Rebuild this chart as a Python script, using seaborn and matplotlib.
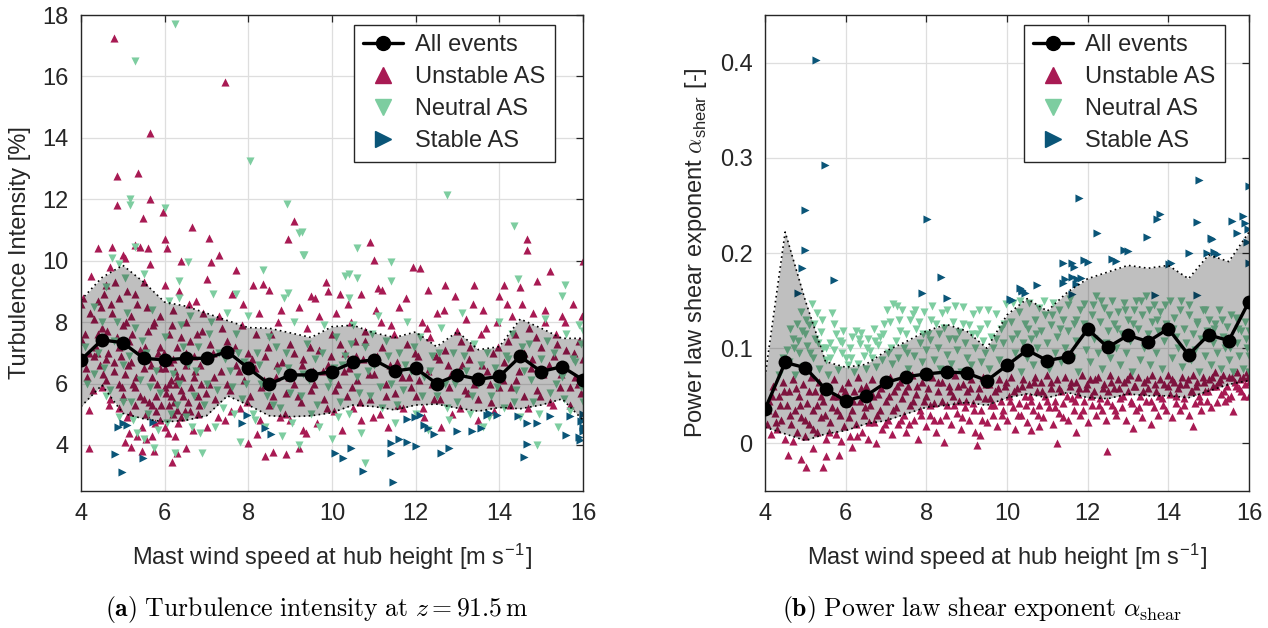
import numpy as np
import pandas as pd
import seaborn as sns
import matplotlib
matplotlib.use("Agg")
import matplotlib.pyplot as plt
from matplotlib.lines import Line2D

# ---------------------------------------------------------------- data
wind_bins = [4.0, 4.5, 5.0, 5.5, 6.0, 6.5, 7.0, 7.5, 8.0, 8.5, 9.0, 9.5, 10.0,
             10.5, 11.0, 11.5, 12.0, 12.5, 13.0, 13.5, 14.0, 14.5, 15.0, 15.5, 16.0]

# Turbulence intensity [%]: bin means of all events and spread band
ti_mean = [6.77, 7.42, 7.33, 6.82, 6.77, 6.82, 6.82, 7.04, 6.50, 5.98, 6.28, 6.28, 6.39,
           6.69, 6.77, 6.41, 6.50, 6.00, 6.28, 6.14, 6.23, 6.88, 6.39, 6.55, 6.12]
ti_upper = [8.72, 9.45, 9.85, 9.30, 8.65, 8.52, 8.29, 8.05, 7.82, 7.80, 7.65, 7.50, 7.85,
            7.90, 7.65, 7.50, 7.68, 7.20, 7.69, 7.10, 7.20, 8.10, 7.80, 7.47, 7.47]
ti_lower = [5.25, 5.95, 5.03, 4.85, 4.75, 4.80, 4.95, 5.60, 5.30, 4.95, 4.92, 4.95, 5.05,
            5.30, 5.25, 5.14, 5.30, 5.33, 5.20, 5.10, 5.22, 5.18, 5.30, 5.50, 4.81]

# Shear exponent [-]: bin means of all events and spread band
alpha_mean = [0.036, 0.085, 0.0795, 0.057, 0.045, 0.050, 0.064, 0.070, 0.073, 0.075, 0.074,
              0.066, 0.082, 0.098, 0.087, 0.091, 0.120, 0.101, 0.1135, 0.107, 0.1205,
              0.093, 0.114, 0.108, 0.149]
alpha_upper = [0.070, 0.222, 0.150, 0.086, 0.080, 0.083, 0.097, 0.107, 0.118, 0.125, 0.118,
               0.100, 0.135, 0.152, 0.139, 0.159, 0.173, 0.180, 0.187, 0.184, 0.187,
               0.173, 0.198, 0.191, 0.222]
alpha_lower = [0.017, 0.010, 0.003, 0.010, 0.0135, 0.0205, 0.024, 0.031, 0.038, 0.040, 0.043,
               0.040, 0.048, 0.052, 0.048, 0.0535, 0.048, 0.047, 0.052, 0.050, 0.050,
               0.048, 0.055, 0.062, 0.066]

# Turbulence intensity, unstable atmospheric stability
ti_unstable_ws = [
    4.05, 4.1, 4.15, 4.2, 4.2, 4.25, 4.3, 4.3, 4.35, 4.4, 4.4, 4.45, 4.5, 4.5, 4.55, 4.6, 4.6,
    4.65, 4.7, 4.7, 4.75, 4.75, 4.8, 4.8, 4.85, 4.85, 4.87, 4.9, 4.9, 4.95, 5.0, 5.0, 5.0,
    5.05, 5.05, 5.1, 5.1, 5.15, 5.2, 5.2, 5.25, 5.3, 5.3, 5.35, 5.37, 5.4, 5.4, 5.45, 5.45,
    5.48, 5.5, 5.5, 5.55, 5.6, 5.6, 5.65, 5.65, 5.65, 5.7, 5.7, 5.75, 5.75, 5.8, 5.85, 5.9,
    5.9, 5.95, 6.0, 6.0, 6.0, 6.05, 6.05, 6.1, 6.1, 6.15, 6.17, 6.2, 6.2, 6.25, 6.3, 6.3,
    6.3, 6.35, 6.4, 6.4, 6.45, 6.5, 6.5, 6.55, 6.6, 6.65, 6.7, 6.75, 6.8, 6.85, 6.9, 7.0,
    7.0, 7.05, 7.07, 7.1, 7.15, 7.2, 7.3, 7.3, 7.35, 7.44, 7.45, 7.5, 7.55, 7.6, 7.7, 7.7,
    7.8, 7.85, 7.9, 8.0, 8.0, 8.05, 8.1, 8.15, 8.2, 8.25, 8.3, 8.35, 8.4, 8.4, 8.5, 8.5,
    8.55, 8.6, 8.65, 8.7, 8.75, 8.8, 8.9, 8.9, 8.95, 9.0, 9.0, 9.08, 9.1, 9.2, 9.2, 9.25,
    9.3, 9.3, 9.4, 9.5, 9.5, 9.55, 9.6, 9.65, 9.7, 9.8, 9.86, 9.9, 9.9, 10.0, 10.05, 10.1,
    10.15, 10.2, 10.25, 10.3, 10.35, 10.4, 10.45, 10.5, 10.55, 10.6, 10.7, 10.7, 10.75,
    10.8, 10.9, 10.9, 11.0, 11.0, 11.05, 11.1, 11.15, 11.2, 11.2, 11.3, 11.35, 11.4, 11.5,
    11.55, 11.6, 11.7, 11.8, 11.85, 11.94, 12.0, 12.05, 12.1, 12.15, 12.2, 12.3, 12.3,
    12.35, 12.45, 12.5, 12.55, 12.6, 12.7, 12.7, 12.8, 12.85, 12.95, 13.0, 13.05, 13.1,
    13.2, 13.25, 13.3, 13.4, 13.4, 13.5, 13.55, 13.6, 13.7, 13.8, 13.85, 13.95, 14.0, 14.0,
    14.1, 14.1, 14.2, 14.25, 14.3, 14.4, 14.45, 14.5, 14.55, 14.6, 14.65, 14.65, 14.7,
    14.75, 14.8, 14.9, 14.9, 15.0, 15.05, 15.1, 15.2, 15.2, 15.3, 15.35, 15.45, 15.5, 15.55,
    15.6, 15.7, 15.75, 15.8, 15.9, 15.95, 16.0, 16.0,
    5.2, 5.3, 5.5, 5.6, 5.8, 5.9, 6.0, 6.0, 6.1, 6.15, 6.2, 6.25, 6.3, 6.4, 6.45, 6.5, 6.6,
    6.7, 6.8, 4.9, 4.6, 4.4, 4.2, 4.0, 5.7, 5.55, 5.35, 5.15, 5.05]
ti_unstable = [
    8.8, 7.6, 6.2, 5.15, 3.9, 9.5, 8.1, 6.9, 7.2, 10.4, 8.7, 6.6, 5.9, 7.8, 8.9, 6.1, 9.2,
    7.0, 9.8, 5.5, 10.45, 8.3, 6.4, 17.25, 11.8, 7.5, 12.76, 5.2, 8.8, 6.9, 10.2, 7.9, 5.6,
    10.1, 6.3, 9.0, 4.9, 7.4, 3.93, 8.2, 6.0, 10.5, 5.3, 8.6, 12.86, 10.45, 7.1, 3.8, 4.6,
    11.38, 6.5, 9.3, 5.0, 10.4, 7.7, 14.16, 12.0, 9.9, 6.2, 4.3, 3.8, 8.0, 5.6, 7.0, 6.5,
    4.8, 11.6, 10.7, 9.2, 5.9, 10.4, 6.8, 5.3, 7.6, 6.1, 3.46, 8.4, 5.0, 6.4, 3.73, 5.14,
    7.2, 9.0, 10.0, 5.8, 6.9, 3.9, 8.0, 5.4, 7.4, 11.1, 6.2, 8.7, 5.0, 6.6, 7.7, 4.6,
    9.4, 6.0, 10.73, 9.95, 7.0, 5.5, 10.2, 8.2, 6.4, 15.83, 4.82, 7.4, 5.8, 8.9, 9.7, 6.6,
    5.2, 7.9, 6.1, 4.07, 7.0, 5.6, 9.2, 6.5, 4.35, 8.3, 5.9, 9.25, 3.65, 6.9, 9.05, 5.3,
    7.6, 3.76, 6.2, 8.0, 4.9, 6.7, 3.7, 5.7, 10.7, 4.82, 7.3, 11.3, 6.0, 3.9, 8.5, 5.4,
    4.5, 6.8, 7.8, 8.85, 5.8, 6.4, 8.8, 4.7, 7.1, 5.5, 9.29, 9.0, 6.6, 7.6, 5.1, 8.3,
    6.0, 8.9, 4.5, 7.0, 5.6, 6.5, 8.0, 5.2, 7.4, 6.1, 8.9, 4.8, 6.8,
    7.7, 10.62, 5.5, 10.03, 6.3, 8.4, 9.1, 5.0, 9.05, 7.2, 6.0, 4.6, 7.9, 5.7,
    6.7, 8.5, 5.2, 7.3, 6.2, 9.8, 5.6, 6.9, 9.75, 8.0, 4.9, 9.05, 6.4,
    7.5, 5.5, 8.3, 6.8, 4.6, 9.2, 7.1, 5.9, 6.3, 8.85, 7.7, 5.2, 6.6,
    8.1, 5.7, 7.2, 9.2, 6.0, 4.8, 7.6, 8.4, 6.4, 5.4, 7.0, 8.0, 8.85, 5.9,
    9.2, 6.7, 7.4, 5.3, 8.2, 6.1, 7.0, 9.15, 8.6, 5.6, 10.7, 10.35, 7.8,
    6.5, 8.3, 9.35, 5.8, 7.2, 6.3, 8.0, 9.65, 5.4, 6.9, 7.6, 5.9, 8.2, 6.6,
    7.1, 5.3, 8.6, 6.2, 7.4, 5.7, 10.0, 6.8,
    6.7, 5.9, 5.5, 6.8, 5.1, 7.2, 6.5, 4.6, 6.0, 5.6, 6.8, 4.3, 6.2, 4.9, 5.6, 6.6, 5.1,
    6.9, 5.6, 6.0, 6.8, 7.6, 7.0, 8.6, 5.3, 4.2, 4.3, 4.4, 4.1]
# further unstable events inside the dense cloud, as (wind speed, TI) pairs
ti_unstable_cloud = [
    (4.02, 7.4), (4.12, 6.5), (4.22, 8.3), (4.28, 5.8), (4.38, 7.0), (4.48, 8.5), (4.52, 6.3),
    (4.62, 7.7), (4.68, 5.3), (4.72, 8.6), (4.78, 6.7), (4.82, 9.3), (4.92, 7.2), (4.98, 5.9),
    (5.08, 8.0), (5.12, 6.6), (5.18, 5.0), (5.22, 7.6), (5.28, 8.9), (5.32, 6.2), (5.42, 5.6),
    (5.52, 7.2), (5.58, 8.5), (5.62, 5.4), (5.68, 6.6), (5.72, 7.9), (5.78, 4.7), (5.82, 6.0),
    (5.88, 8.2), (5.92, 5.3), (5.98, 7.0), (6.02, 5.7), (6.08, 4.4), (6.12, 6.7), (6.18, 7.9),
    (6.22, 5.4), (6.28, 6.0), (6.32, 4.7), (6.38, 7.5), (6.42, 6.2), (6.48, 5.1), (6.52, 7.0),
    (6.58, 8.6), (6.62, 5.9), (6.68, 4.5), (6.72, 6.4), (6.78, 7.6), (6.82, 5.3), (6.88, 6.0),
    (6.92, 8.3), (6.98, 5.7), (7.08, 7.3), (7.18, 6.2), (7.28, 4.9), (7.38, 7.8), (7.48, 6.0),
    (7.58, 5.1), (7.68, 7.2), (7.78, 6.4), (7.88, 8.6), (7.98, 5.4), (8.08, 6.8), (8.18, 7.6),
    (8.28, 4.8), (8.38, 6.1), (8.48, 7.2), (8.58, 5.6), (8.68, 6.6), (8.78, 8.4), (8.88, 5.0),
    (8.98, 6.2), (9.08, 7.0), (9.18, 5.6), (9.28, 6.6), (9.38, 4.4), (9.48, 7.2), (9.58, 6.0),
    (9.68, 8.2), (9.78, 6.4), (9.88, 5.2), (9.98, 6.9), (10.08, 5.8), (10.18, 7.3),
    (10.28, 6.4), (10.38, 8.6), (10.48, 5.9), (10.58, 6.9), (10.68, 5.4), (10.78, 7.4),
    (10.88, 6.3), (10.98, 4.9), (11.08, 6.9), (11.18, 8.0), (11.28, 5.6), (11.38, 6.6),
    (11.48, 7.6), (11.58, 5.3), (11.68, 6.2), (11.78, 8.8), (11.88, 5.9), (11.98, 7.0),
    (12.08, 6.1), (12.18, 5.2), (12.28, 7.8), (12.38, 6.0), (12.48, 6.9), (12.58, 5.5),
    (12.68, 8.4), (12.78, 6.6), (12.88, 5.0), (12.98, 6.3), (13.08, 7.4), (13.18, 5.8),
    (13.28, 6.8), (13.38, 8.6), (13.48, 5.5), (13.58, 6.6), (13.68, 7.8), (13.78, 6.0),
    (13.88, 5.1), (13.98, 7.2), (14.08, 6.1), (14.18, 8.6), (14.28, 5.9), (14.38, 7.6),
    (14.48, 6.4), (14.58, 7.0), (14.68, 5.2), (14.78, 6.8), (14.88, 7.5), (14.98, 5.6),
    (15.08, 8.4), (15.18, 6.6), (15.28, 5.3), (15.38, 7.3), (15.48, 6.3), (15.58, 8.0),
    (15.68, 5.9), (15.78, 7.0), (15.88, 6.0), (15.98, 8.2)]

# Turbulence intensity, neutral atmospheric stability
ti_neutral_ws = [
    4.3, 4.6, 4.75, 4.9, 5.05, 5.16, 5.16, 5.29, 5.3, 5.5, 6.0, 6.25, 6.35, 6.35, 6.55,
    7.15, 7.7, 8.04, 8.35, 8.85, 8.93, 8.95, 9.2, 9.3, 9.28, 9.33, 10.3, 10.4, 10.4, 10.6,
    10.6, 11.4, 11.4, 12.76, 14.34, 14.45, 15.5, 15.56,
    4.1, 4.3, 4.5, 4.6, 4.8, 4.9, 5.0, 5.1, 5.2, 5.3, 5.35, 5.4, 5.5, 5.55, 5.6, 5.7, 5.75,
    5.8, 5.9, 6.0, 6.05, 6.1, 6.2, 6.25, 6.3, 6.4, 6.5, 6.55, 6.6, 6.7, 6.8, 6.85, 6.9,
    7.0, 7.1, 7.2, 7.3, 7.4, 7.5, 7.55, 7.6, 7.7, 7.8, 7.85, 7.9, 8.0, 8.1, 8.2, 8.3, 8.4,
    8.5, 8.6, 8.7, 8.8, 8.9, 9.0, 9.1, 9.2, 9.3, 9.4, 9.5, 9.6, 9.7, 9.8, 9.9, 10.0, 10.05,
    10.1, 10.2, 10.3, 10.4, 10.5, 10.6, 10.7, 10.8, 10.8, 10.9, 11.0, 11.1, 11.2, 11.3,
    11.4, 11.5, 11.6, 11.7, 11.8, 11.9, 12.0, 12.1, 12.2, 12.3, 12.4, 12.5, 12.6, 12.7,
    12.8, 12.9, 13.0, 13.1, 13.2, 13.3, 13.4, 13.5, 13.6, 13.7, 13.8, 13.9, 14.0, 14.1,
    14.2, 14.3, 14.4, 14.5, 14.6, 14.7, 14.8, 14.9, 15.0, 15.1, 15.2, 15.3, 15.4, 15.5,
    15.6, 15.7, 15.8, 15.9, 16.0, 16.0, 15.95]
ti_neutral = [
    8.5, 9.15, 10.1, 9.9, 9.45, 12.0, 11.8, 16.5, 10.45, 9.55, 11.7, 17.7, 9.35, 8.8, 9.95,
    8.9, 8.9, 13.25, 9.7, 8.8, 11.85, 8.95, 10.9, 10.2, 10.95, 10.2, 9.5, 9.55, 8.8, 10.4,
    9.45, 9.95, 9.35, 12.14, 11.13, 9.4, 8.85, 9.2,
    7.2, 6.3, 8.0, 5.6, 7.4, 4.9, 6.6, 8.3, 5.4, 7.8, 4.4, 6.1, 4.2, 7.0, 5.0, 8.4, 3.9,
    6.4, 5.7, 7.5, 4.7, 8.7, 6.3, 3.75, 5.3, 7.9, 4.9, 6.6, 8.2, 5.6, 7.2, 4.4, 3.75,
    6.0, 8.0, 4.6, 7.0, 5.2, 8.3, 6.4, 5.9, 7.6, 4.1, 5.5, 6.7, 8.2, 5.0, 7.0, 6.0, 4.6,
    7.5, 5.3, 6.4, 4.3, 7.0, 5.7, 8.0, 4.0, 6.3, 7.3, 5.0, 6.8, 4.6, 7.9, 5.9, 4.2, 6.5,
    7.5, 5.4, 6.9, 5.0, 7.9, 6.2, 4.4, 3.42, 7.2, 5.6, 6.6, 8.2, 5.2, 7.4,
    6.0, 4.7, 7.0, 5.8, 8.0, 6.4, 5.0, 7.5, 6.2, 4.5, 6.9, 5.6, 7.8, 6.0,
    4.8, 7.0, 5.4, 8.3, 6.4, 5.0, 7.3, 6.0, 4.6, 7.0, 5.6, 6.5, 8.0, 5.2,
    6.8, 7.6, 5.8, 4.9, 6.4, 7.3, 5.4, 4.0, 6.8, 8.1, 5.7, 7.0, 4.6, 6.2,
    7.6, 5.1, 6.7, 7.9, 7.7, 5.4, 7.3]
ti_neutral_cloud = [
    (4.15, 6.0), (4.4, 7.0), (4.55, 6.5), (4.7, 5.8), (4.85, 8.0), (5.0, 5.4), (5.15, 6.9),
    (5.25, 4.8), (5.45, 7.4), (5.65, 5.9), (5.85, 4.5), (5.95, 6.8), (6.15, 5.0), (6.35, 6.0),
    (6.45, 7.2), (6.65, 4.6), (6.75, 6.4), (6.95, 5.3), (7.05, 7.6), (7.25, 5.8), (7.45, 6.8),
    (7.65, 5.0), (7.75, 7.0), (7.95, 6.0), (8.15, 4.8), (8.25, 6.6), (8.45, 5.6), (8.65, 7.2),
    (8.75, 5.2), (8.95, 6.5), (9.05, 4.7), (9.25, 5.6), (9.45, 6.1), (9.65, 5.3), (9.75, 7.0),
    (9.95, 6.1), (10.15, 4.9), (10.25, 6.6), (10.45, 7.3), (10.65, 5.7), (10.85, 6.4),
    (10.95, 7.6), (11.15, 5.9), (11.35, 6.9), (11.55, 5.3), (11.75, 6.6), (11.95, 7.2),
    (12.15, 5.6), (12.35, 6.4), (12.55, 7.0), (12.75, 5.2), (12.95, 6.0), (13.15, 6.9),
    (13.35, 5.6), (13.55, 6.6), (13.75, 4.9), (13.95, 5.9), (14.15, 6.9), (14.35, 5.4),
    (14.55, 7.2), (14.75, 6.1), (14.95, 5.0), (15.15, 7.4), (15.35, 6.0), (15.55, 5.5),
    (15.75, 6.8), (15.95, 5.9)]

# Turbulence intensity, stable atmospheric stability
ti_stable_ws = [
    4.89, 5.0, 5.1, 5.73, 4.81, 5.49, 4.97, 7.96, 7.86, 8.4, 8.55, 10.08, 10.27, 10.45,
    10.75, 11.47, 11.4, 11.4, 11.6, 11.8, 12.0, 11.79, 11.98, 12.1, 12.2, 12.3, 12.45,
    12.6, 12.8, 12.98, 13.35, 13.55, 13.75, 13.95, 14.45, 14.65, 14.9, 15.2, 14.65, 14.6,
    15.6, 15.7, 15.9, 15.95, 16.0, 16.0, 15.92, 16.0, 16.0, 13.7]
ti_stable = [
    4.6, 4.7, 4.65, 4.76, 3.7, 3.57, 3.13, 4.98, 4.7, 4.55, 4.35, 3.75, 3.57, 3.9, 3.16,
    2.8, 3.75, 4.05, 4.2, 4.1, 3.95, 4.84, 4.92, 4.98, 4.65, 4.56, 4.35, 3.75, 3.9, 4.45,
    4.45, 4.56, 5.04, 4.98, 4.95, 4.71, 4.73, 4.95, 4.04, 3.6, 4.32, 4.95, 4.25, 4.79, 4.6,
    4.45, 4.15, 5.0, 4.8, 4.97]

# Shear exponent, unstable atmospheric stability
alpha_unstable_ws = [
    4.05, 4.1, 4.15, 4.2, 4.25, 4.3, 4.35, 4.4, 4.45, 4.5, 4.55, 4.58, 4.6, 4.65, 4.7, 4.7,
    4.75, 4.8, 4.85, 4.9, 4.9, 4.95, 5.0, 5.02, 5.05, 5.1, 5.15, 5.2, 5.2, 5.25, 5.3, 5.35,
    5.4, 5.43, 5.45, 5.5, 5.5, 5.55, 5.6, 5.65, 5.7, 5.75, 5.8, 5.84, 5.85, 5.9, 5.95, 6.0,
    6.05, 6.1, 6.15, 6.15, 6.2, 6.25, 6.3, 6.35, 6.4, 6.45, 6.5, 6.55, 6.6, 6.65, 6.7,
    6.76, 6.8, 6.85, 6.9, 6.95, 7.0, 7.05, 7.1, 7.15, 7.2, 7.25, 7.3, 7.35, 7.4, 7.45, 7.5,
    7.55, 7.6, 7.65, 7.7, 7.75, 7.8, 7.85, 7.9, 7.95, 8.0, 8.05, 8.1, 8.15, 8.2, 8.25, 8.3,
    8.35, 8.4, 8.45, 8.5, 8.55, 8.6, 8.65, 8.7, 8.75, 8.8, 8.85, 8.9, 8.95, 9.0, 9.05, 9.1,
    9.15, 9.2, 9.25, 9.3, 9.32, 9.35, 9.4, 9.45, 9.5, 9.55, 9.6, 9.65, 9.7, 9.75, 9.8,
    9.85, 9.9, 9.95, 10.0, 10.05, 10.1, 10.15, 10.2, 10.25, 10.3, 10.35, 10.4, 10.45, 10.5,
    10.55, 10.6, 10.6, 10.65, 10.7, 10.75, 10.8, 10.8, 10.85, 10.9, 10.95, 11.0, 11.05,
    11.1, 11.15, 11.2, 11.23, 11.25, 11.3, 11.35, 11.4, 11.45, 11.5, 11.55, 11.6, 11.65,
    11.7, 11.7, 11.75, 11.8, 11.85, 11.9, 11.95, 12.0, 12.05, 12.1, 12.15, 12.2, 12.25,
    12.3, 12.35, 12.4, 12.45, 12.47, 12.5, 12.55, 12.6, 12.65, 12.7, 12.75, 12.8, 12.85,
    12.9, 12.95, 13.0, 13.05, 13.1, 13.13, 13.15, 13.2, 13.25, 13.3, 13.35, 13.4, 13.45,
    13.5, 13.56, 13.6, 13.65, 13.7, 13.75, 13.8, 13.85, 13.9, 13.95, 14.0, 14.05, 14.1,
    14.15, 14.2, 14.25, 14.3, 14.35, 14.4, 14.45, 14.5, 14.55, 14.6, 14.6, 14.65, 14.7,
    14.75, 14.8, 14.85, 14.9, 14.95, 15.0, 15.05, 15.1, 15.15, 15.2, 15.25, 15.3, 15.35,
    15.4, 15.45, 15.5, 15.55, 15.6, 15.65, 15.7, 15.75, 15.8, 15.85, 15.9, 15.95, 16.0, 16.0]
alpha_unstable = [
    0.02, 0.045, 0.01, 0.06, 0.032, 0.015, 0.05, 0.025, 0.065, 0.005, 0.04, -0.0125, 0.055,
    0.02, 0.003, 0.068, 0.035, 0.012, 0.05, -0.016, 0.028, 0.062, 0.008, -0.025, 0.042,
    0.02, 0.07, -0.005, 0.035, 0.055, 0.012, 0.065, 0.028, -0.025, 0.045, -0.013, 0.005,
    0.06, 0.022, 0.038, 0.068, 0.01, 0.05, -0.012, 0.03, 0.058, 0.018, 0.042, 0.065, 0.008,
    -0.004, 0.035, 0.055, 0.02, 0.07, 0.045, 0.012, 0.03, 0.06, 0.005, 0.04, 0.068, 0.022,
    0.0, 0.052, 0.035, 0.015, 0.062, 0.045, 0.025, 0.07, 0.01, 0.055, 0.038, 0.02, 0.065,
    0.048, 0.03, 0.012, 0.06, 0.04, 0.072, 0.025, 0.052, 0.005, 0.035, 0.065, 0.045, 0.018,
    0.058, 0.03, 0.07, 0.042, 0.012, 0.055, 0.025, 0.065, 0.001, 0.04, 0.06, 0.02, 0.05,
    0.072, 0.032, 0.045, 0.015, 0.062, 0.038, 0.055, 0.025, 0.068, 0.042, 0.012, -0.002,
    0.058, 0.009, 0.035, 0.07, 0.048, 0.022, 0.062, 0.04, 0.03, 0.055, 0.018, 0.068, 0.045,
    0.035, 0.06, 0.025, 0.05, 0.07, 0.038, 0.015, 0.058, 0.042, 0.03, 0.068, 0.05, 0.022,
    0.062, 0.014, 0.045, 0.035, 0.07, 0.055, 0.018, 0.04, 0.065, 0.028, 0.05, 0.072, 0.038,
    0.058, 0.02, 0.045, 0.0007, 0.068, 0.032, 0.055, 0.042, 0.07, 0.025, 0.06, 0.048,
    0.035, 0.0115, 0.065, 0.052, 0.03, 0.072, 0.045, 0.058, 0.022, 0.068, 0.04, 0.055,
    0.03, 0.07, 0.048, 0.035, 0.062, 0.025, -0.008, 0.055, 0.072, 0.04, 0.058, 0.03, 0.068,
    0.048, 0.038, 0.065, 0.025, 0.055, 0.072, 0.042, 0.016, 0.06, 0.035, 0.07, 0.05, 0.028,
    0.065, 0.045, 0.058, 0.02, 0.072, 0.038, 0.055, 0.03, 0.068, 0.048, 0.062, 0.035,
    0.072, 0.052, 0.028, 0.065, 0.042, 0.058, 0.035, 0.07, 0.048, 0.062, 0.03, 0.055,
    0.018, 0.072, 0.042, 0.065, 0.05, 0.035, 0.07, 0.055, 0.045, 0.068, 0.038, 0.06, 0.075,
    0.043, 0.065, 0.052, 0.072, 0.045, 0.06, 0.07, 0.05, 0.034, 0.065, 0.075, 0.058, 0.055,
    0.07, 0.062, 0.075, 0.065, 0.05]
alpha_unstable_cloud = [
    (4.08, 0.035), (4.18, 0.05), (4.28, 0.022), (4.38, 0.04), (4.48, 0.055), (4.62, 0.03),
    (4.78, 0.058), (4.88, 0.04), (4.98, 0.025), (5.08, 0.055), (5.18, 0.015), (5.28, 0.04),
    (5.38, 0.05), (5.48, 0.03), (5.58, 0.012), (5.68, 0.05), (5.78, 0.035), (5.88, 0.002),
    (5.98, 0.055), (6.08, 0.028), (6.18, 0.045), (6.28, 0.008), (6.38, 0.058), (6.48, 0.038),
    (6.58, 0.022), (6.68, 0.05), (6.78, 0.03), (6.88, 0.058), (6.98, 0.02), (7.08, 0.05),
    (7.18, 0.035), (7.28, 0.06), (7.38, 0.025), (7.48, 0.055), (7.58, 0.02), (7.68, 0.045),
    (7.78, 0.06), (7.88, 0.03), (7.98, 0.05), (8.08, 0.04), (8.18, 0.025), (8.28, 0.065),
    (8.38, 0.045), (8.48, 0.03), (8.58, 0.055), (8.68, 0.04), (8.78, 0.06), (8.88, 0.028),
    (8.98, 0.045), (9.08, 0.058), (9.18, 0.035), (9.28, 0.05), (9.38, 0.025), (9.48, 0.062),
    (9.58, 0.048), (9.68, 0.04), (9.78, 0.058), (9.88, 0.03), (9.98, 0.065), (10.08, 0.045),
    (10.18, 0.055), (10.28, 0.03), (10.38, 0.06), (10.48, 0.04), (10.58, 0.05),
    (10.68, 0.065), (10.78, 0.03), (10.88, 0.055), (10.98, 0.045), (11.08, 0.065),
    (11.18, 0.038), (11.28, 0.058), (11.38, 0.028), (11.48, 0.05), (11.58, 0.065),
    (11.68, 0.045), (11.78, 0.058), (11.88, 0.035), (11.98, 0.062), (12.08, 0.05),
    (12.18, 0.068), (12.28, 0.04), (12.38, 0.058), (12.48, 0.045), (12.58, 0.065),
    (12.68, 0.035), (12.78, 0.058), (12.88, 0.05), (12.98, 0.068), (13.08, 0.045),
    (13.18, 0.06), (13.28, 0.038), (13.38, 0.055), (13.48, 0.068), (13.58, 0.045),
    (13.68, 0.062), (13.78, 0.05), (13.88, 0.04), (13.98, 0.06), (14.08, 0.068),
    (14.18, 0.05), (14.28, 0.062), (14.38, 0.04), (14.48, 0.068), (14.58, 0.055),
    (14.68, 0.06), (14.78, 0.045), (14.88, 0.065), (14.98, 0.055), (15.08, 0.07),
    (15.18, 0.06), (15.28, 0.068), (15.38, 0.055), (15.48, 0.048), (15.58, 0.07),
    (15.68, 0.06), (15.78, 0.068), (15.88, 0.05), (15.98, 0.07)]

# Shear exponent, neutral atmospheric stability
alpha_neutral_ws = [
    4.35, 4.45, 4.55, 4.6, 4.7, 4.75, 4.8, 4.85, 4.9, 4.95, 5.0, 5.05, 5.1, 5.16, 5.2, 5.25,
    5.3, 5.35, 5.4, 5.45, 5.5, 5.55, 5.6, 5.62, 5.65, 5.7, 5.75, 5.82, 5.85, 5.9, 5.94,
    6.0, 6.05, 6.1, 6.15, 6.2, 6.25, 6.3, 6.35, 6.38, 6.45, 6.5, 6.55, 6.6, 6.65, 6.7,
    6.75, 6.8, 6.85, 6.9, 6.95, 7.02, 7.05, 7.1, 7.15, 7.18, 7.25, 7.27, 7.3, 7.35, 7.4,
    7.45, 7.5, 7.55, 7.6, 7.66, 7.7, 7.75, 7.82, 7.85, 7.9, 7.95, 8.0, 8.05, 8.1, 8.15,
    8.2, 8.25, 8.3, 8.35, 8.4, 8.45, 8.5, 8.55, 8.6, 8.65, 8.7, 8.75, 8.8, 8.85, 8.9, 8.95,
    9.0, 9.05, 9.1, 9.15, 9.2, 9.25, 9.3, 9.35, 9.4, 9.45, 9.5, 9.55, 9.6, 9.65, 9.72, 9.8,
    9.85, 9.9, 9.97, 10.05, 10.1, 10.16, 10.2, 10.25, 10.3, 10.35, 10.4, 10.45, 10.5,
    10.55, 10.6, 10.65, 10.7, 10.75, 10.8, 10.85, 10.9, 10.95, 11.0, 11.05, 11.1, 11.15,
    11.2, 11.25, 11.3, 11.35, 11.4, 11.45, 11.5, 11.55, 11.6, 11.65, 11.7, 11.75, 11.8,
    11.9, 11.95, 12.0, 12.05, 12.1, 12.15, 12.2, 12.25, 12.3, 12.35, 12.4, 12.45, 12.5,
    12.55, 12.6, 12.65, 12.7, 12.75, 12.8, 12.85, 12.9, 12.95, 13.0, 13.05, 13.1, 13.15,
    13.2, 13.25, 13.3, 13.35, 13.4, 13.45, 13.5, 13.55, 13.6, 13.65, 13.7, 13.75, 13.8,
    13.85, 13.9, 13.95, 14.03, 14.1, 14.15, 14.2, 14.25, 14.3, 14.35, 14.4, 14.45, 14.5,
    14.55, 14.6, 14.65, 14.7, 14.75, 14.8, 14.85, 14.9, 14.95, 15.0, 15.05, 15.1, 15.15,
    15.2, 15.25, 15.3, 15.35, 15.4, 15.45, 15.5, 15.55, 15.6, 15.68, 15.7, 15.75, 15.8,
    15.85, 15.9, 15.95, 16.0, 16.0, 16.0]
alpha_neutral = [
    0.072, 0.09, 0.098, 0.085, 0.11, 0.072, 0.125, 0.095, 0.138, 0.08, 0.115, 0.102, 0.124,
    0.146, 0.09, 0.11, 0.137, 0.078, 0.117, 0.1, 0.088, 0.072, 0.105, 0.09, 0.137, 0.098,
    0.115, 0.077, 0.108, 0.095, 0.118, 0.09, 0.082, 0.1, 0.112, 0.075, 0.118, 0.083, 0.104,
    0.116, 0.092, 0.078, 0.11, 0.097, 0.09, 0.12, 0.08, 0.103, 0.112, 0.088, 0.125, 0.14,
    0.095, 0.127, 0.083, 0.146, 0.108, 0.144, 0.09, 0.118, 0.14, 0.1, 0.115, 0.078, 0.13,
    0.136, 0.092, 0.12, 0.128, 0.105, 0.085, 0.138, 0.098, 0.115, 0.109, 0.144, 0.088,
    0.125, 0.1, 0.078, 0.137, 0.121, 0.093, 0.11, 0.083, 0.128, 0.144, 0.098, 0.117,
    0.075, 0.143, 0.105, 0.09, 0.124, 0.082, 0.136, 0.1, 0.115, 0.14, 0.085, 0.108, 0.095,
    0.125, 0.078, 0.112, 0.1, 0.136, 0.088, 0.12, 0.105, 0.146, 0.082, 0.128, 0.147, 0.095,
    0.115, 0.138, 0.075, 0.105, 0.125, 0.09, 0.148, 0.11, 0.082, 0.13, 0.1, 0.142, 0.118,
    0.088, 0.135, 0.105, 0.078, 0.124, 0.148, 0.095, 0.112, 0.14, 0.085, 0.13, 0.1, 0.118,
    0.152, 0.09, 0.125, 0.108, 0.075, 0.14, 0.146, 0.098, 0.12, 0.085, 0.135, 0.11, 0.155,
    0.095, 0.128, 0.078, 0.142, 0.105, 0.118, 0.09, 0.15, 0.125, 0.1, 0.138, 0.082, 0.115,
    0.148, 0.095, 0.13, 0.108, 0.075, 0.14, 0.15, 0.12, 0.088, 0.135, 0.1, 0.155, 0.115,
    0.082, 0.128, 0.145, 0.095, 0.118, 0.138, 0.078, 0.108, 0.125, 0.15, 0.09, 0.132,
    0.112, 0.1, 0.14, 0.08, 0.12, 0.105, 0.135, 0.088, 0.115, 0.098, 0.128, 0.075, 0.11,
    0.14, 0.092, 0.118, 0.13, 0.082, 0.105, 0.125, 0.095, 0.14, 0.078, 0.112, 0.1, 0.122,
    0.088, 0.135, 0.075, 0.132, 0.105, 0.092, 0.118, 0.078, 0.128, 0.1, 0.092, 0.118,
    0.075]
alpha_neutral_cloud = [
    (4.62, 0.12), (4.72, 0.1), (4.82, 0.108), (4.92, 0.118), (5.02, 0.13), (5.12, 0.095),
    (5.22, 0.125), (5.32, 0.105), (5.42, 0.13), (5.52, 0.1), (5.72, 0.125), (5.92, 0.105),
    (6.12, 0.09), (6.32, 0.11), (6.52, 0.1), (6.72, 0.108), (6.92, 0.115), (7.12, 0.1),
    (7.32, 0.13), (7.52, 0.095), (7.72, 0.14), (7.92, 0.115), (8.12, 0.13), (8.32, 0.115),
    (8.52, 0.14), (8.72, 0.11), (8.92, 0.125), (9.12, 0.115), (9.32, 0.12), (9.52, 0.14),
    (9.72, 0.11), (9.92, 0.125), (10.12, 0.11), (10.32, 0.15), (10.52, 0.12), (10.72, 0.115),
    (10.92, 0.15), (11.12, 0.135), (11.32, 0.12), (11.52, 0.145), (11.72, 0.13),
    (11.92, 0.125), (12.12, 0.145), (12.32, 0.15), (12.52, 0.135), (12.72, 0.12),
    (12.92, 0.14), (13.12, 0.125), (13.32, 0.15), (13.52, 0.14), (13.72, 0.13),
    (13.92, 0.145), (14.12, 0.12), (14.32, 0.15), (14.52, 0.145), (14.72, 0.125),
    (14.92, 0.14), (15.12, 0.12), (15.32, 0.13), (15.52, 0.1), (15.72, 0.12), (15.92, 0.11)]

# Shear exponent, stable atmospheric stability
alpha_stable_ws = [
    5.26, 5.49, 4.99, 4.99, 4.91, 4.81, 5.72, 8.01, 8.36, 7.89, 8.5, 14.77, 16.0, 11.79,
    13.8, 13.73, 14.7, 15.57, 15.86, 15.9, 15.98, 12.23, 13.46, 15.08, 15.7, 15.95, 12.89,
    13.0, 14.52, 14.95, 15.2, 16.0, 11.4, 11.62, 11.66, 11.9, 12.0, 14.02, 10.32, 10.38,
    10.75, 11.44, 11.38, 11.62, 11.74, 11.84, 11.7, 11.6, 13.67, 14.72, 10.07, 10.12,
    10.36, 10.45, 12.6, 12.7, 14.07, 15.07, 15.13]
alpha_stable = [
    0.403, 0.292, 0.245, 0.203, 0.184, 0.158, 0.172, 0.236, 0.175, 0.158, 0.153, 0.277,
    0.27, 0.258, 0.241, 0.236, 0.233, 0.234, 0.239, 0.232, 0.225, 0.221, 0.217, 0.215,
    0.221, 0.212, 0.203, 0.202, 0.2, 0.2, 0.199, 0.189, 0.19, 0.19, 0.185, 0.193, 0.191,
    0.188, 0.163, 0.16, 0.166, 0.173, 0.169, 0.175, 0.173, 0.174, 0.167, 0.157, 0.156,
    0.156, 0.152, 0.151, 0.161, 0.158, 0.194, 0.192, 0.189, 0.216, 0.201]

# axis ticks and labels
ws_ticks = [4, 6, 8, 10, 12, 14, 16]
ti_ticks = [4, 6, 8, 10, 12, 14, 16, 18]
alpha_ticks = [0.0, 0.1, 0.2, 0.3, 0.4]
alpha_tick_labels = ["0", "0.1", "0.2", "0.3", "0.4"]
series_names = ["All events", "Unstable AS", "Neutral AS", "Stable AS"]

# ---------------------------------------------------------------- style
sns.set_theme(style="white")
plt.rcParams["font.family"] = ["Liberation Sans", "DejaVu Sans"]
plt.rcParams["mathtext.fontset"] = "cm"
TXT = "#262626"
C_UNSTABLE = "#a81a53"
C_NEUTRAL = "#7dcda0"
C_STABLE = "#0a5578"
TICK_FS = 17
LABEL_FS = 17


def frame(ws, vals, cloud=()):
    """Events of one stability class as a long table."""
    xs = list(ws) + [p[0] for p in cloud]
    ys = list(vals) + [p[1] for p in cloud]
    return pd.DataFrame({"ws": xs, "v": ys})


fig = plt.figure(figsize=(12.68, 6.28), dpi=100)
ax_ti = fig.add_axes([81 / 1268, 137 / 628, 502 / 1268, 476 / 628])
ax_al = fig.add_axes([765 / 1268, 137 / 628, 484 / 1268, 476 / 628])

mk = dict(s=34, linewidth=0, legend=False)


def draw_panel(ax, unst, neut, stab, mean, lo, hi):
    sns.scatterplot(data=unst, x="ws", y="v", marker="^", color=C_UNSTABLE, ax=ax, **mk)
    sns.scatterplot(data=neut, x="ws", y="v", marker="v", color=C_NEUTRAL, ax=ax, **mk)
    sns.scatterplot(data=stab, x="ws", y="v", marker=">", color=C_STABLE, ax=ax, **mk)
    # spread band shades the events below it
    ax.fill_between(wind_bins, lo, hi, color="black", alpha=0.25, linewidth=0, zorder=1.5)
    ax.plot(wind_bins, hi, color="black", linestyle=(0, (1, 2)), linewidth=1.2, zorder=1.6)
    ax.plot(wind_bins, lo, color="black", linestyle=(0, (1, 2)), linewidth=1.2, zorder=1.6)
    sns.lineplot(x=wind_bins, y=mean, color="black", linewidth=2.4, marker="o",
                 markersize=10, markeredgewidth=0, ax=ax, zorder=3)

    ax.set_xlim(4, 16)
    ax.set_xticks(ws_ticks)
    ax.grid(True, color="#dedede", linewidth=0.9)
    ax.set_axisbelow(True)
    for sp in ax.spines.values():
        sp.set_color(TXT)
        sp.set_linewidth(1.0)
    ax.tick_params(direction="in", length=5, width=0.9, color=TXT, labelcolor=TXT,
                   labelsize=TICK_FS, top=True, right=True, pad=9)
    ax.set_xlabel(r"Mast wind speed at hub height [m s$^{\mathregular{-1}}$]",
                  fontsize=LABEL_FS, color=TXT, labelpad=12)

    handles = [
        Line2D([], [], color="black", linewidth=2.4, marker="o", markersize=10),
        Line2D([], [], linestyle="none", marker="^", color=C_UNSTABLE, markersize=12),
        Line2D([], [], linestyle="none", marker="v", color=C_NEUTRAL, markersize=12),
        Line2D([], [], linestyle="none", marker=">", color=C_STABLE, markersize=12),
    ]
    return handles


ti_u = frame(ti_unstable_ws, ti_unstable, ti_unstable_cloud)
ti_n = frame(ti_neutral_ws, ti_neutral, ti_neutral_cloud)
ti_s = frame(ti_stable_ws, ti_stable)
al_u = frame(alpha_unstable_ws, alpha_unstable, alpha_unstable_cloud)
al_n = frame(alpha_neutral_ws, alpha_neutral, alpha_neutral_cloud)
al_s = frame(alpha_stable_ws, alpha_stable)

h = draw_panel(ax_ti, ti_u, ti_n, ti_s, ti_mean, ti_lower, ti_upper)
ax_ti.set_ylim(2.5, 18)
ax_ti.set_yticks(ti_ticks)
ax_ti.set_ylabel("Turbulence Intensity [%]", fontsize=LABEL_FS, color=TXT, labelpad=8)

draw_panel(ax_al, al_u, al_n, al_s, alpha_mean, alpha_lower, alpha_upper)
ax_al.set_ylim(-0.05, 0.45)
ax_al.set_yticks(alpha_ticks)
ax_al.set_yticklabels(alpha_tick_labels)
ax_al.set_ylabel(r"Power law shear exponent $\alpha_{\mathregular{shear}}$ [-]",
                 fontsize=LABEL_FS, color=TXT, labelpad=8)

for ax, anchor in ((ax_ti, (0.944, 0.979)), (ax_al, (0.950, 0.979))):
    leg = ax.legend(h, series_names, loc="upper right", bbox_to_anchor=anchor,
                    fontsize=17, frameon=True, fancybox=False, framealpha=1,
                    edgecolor=TXT, borderpad=0.4, handlelength=1.7,
                    handletextpad=0.5, labelspacing=0.42, borderaxespad=0)
    leg.get_frame().set_linewidth(1.0)

fig.text(317 / 1268, 0.029,
         r"$\mathbf{(a)}\ \mathrm{Turbulence\ intensity\ at}\ z = 91.5\,\mathrm{m}$",
         ha="center", va="center", fontsize=18.5, color="black")
fig.text(982 / 1268, 0.029,
         r"$\mathbf{(b)}\ \mathrm{Power\ law\ shear\ exponent}\ \alpha_{\mathrm{shear}}$",
         ha="center", va="center", fontsize=18.5, color="black")

fig.savefig("out.png", dpi=100)
